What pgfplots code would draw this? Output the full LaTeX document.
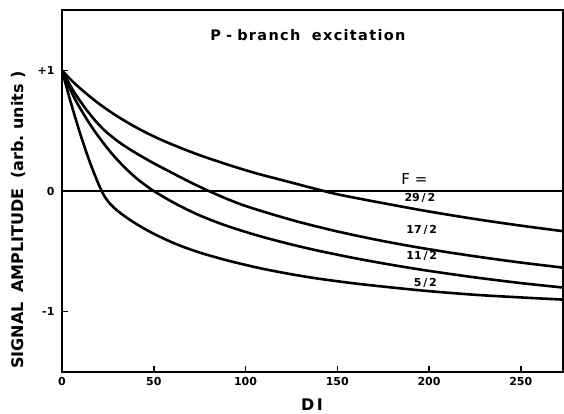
\documentclass[border=0pt]{standalone}
\usepackage{pgfplots}
\pgfplotsset{compat=1.18}
\usepackage{fontspec}
\setmainfont{DejaVu Sans}

% curves for F = 29/2, 17/2, 11/2, 5/2
\pgfplotstableread{
x y
0 1
3 0.95
7 0.89
13 0.81
20 0.725
28 0.64
36 0.565
45 0.49
55 0.418
65 0.355
75 0.297
90 0.22
105 0.15
120 0.09
135 0.03
150 -0.027
165 -0.072
180 -0.115
200 -0.17
225 -0.232
250 -0.287
273 -0.333
}\fA
\pgfplotstableread{
x y
0 1
3 0.915
6 0.835
9 0.765
13 0.68
18 0.585
23 0.505
27 0.453
32 0.395
37 0.345
43 0.29
50 0.23
60 0.15
70 0.072
80 0
90 -0.066
100 -0.124
115 -0.195
130 -0.26
150 -0.335
170 -0.40
190 -0.457
210 -0.507
230 -0.552
250 -0.593
273 -0.635
}\fB
\pgfplotstableread{
x y
0 1
2 0.922
5 0.823
9 0.709
15 0.559
20 0.449
27 0.3125
35 0.1825
42 0.088
50 0
62 -0.106
75 -0.202
90 -0.29
108 -0.375
125 -0.443
140 -0.496
160 -0.558
180 -0.613
200 -0.662
225 -0.716
250 -0.763
273 -0.80
}\fC
\pgfplotstableread{
x y
0 1
2 0.886
4 0.776
6.5 0.645
9.5 0.495
12.5 0.355
15.5 0.226
18.5 0.109
21 0.02
23 -0.04
26 -0.103
30 -0.161
35 -0.218
40 -0.268
46 -0.322
53 -0.377
63 -0.445
75 -0.51
90 -0.575
108 -0.64
125 -0.69
140 -0.727
160 -0.767
180 -0.80
200 -0.83
225 -0.86
250 -0.882
273 -0.90
}\fD

\begin{document}
\begin{tikzpicture}
\begin{axis}[
  at={(0,0)}, anchor=south west,
  scale only axis,
  width=501pt, height=362pt,
  xmin=0, xmax=273, ymin=-1.5, ymax=1.5,
  xtick={0,50,100,150,200,250},
  ytick={-1,0,1},
  yticklabels={-1,0,+1},
  tick pos=left, tick align=inside,
  major tick length=6pt,
  axis line style={line width=2.2pt},
  tick style={line width=1.5pt, black},
  tick label style={font=\fontsize{11}{13}\selectfont\bfseries},
  /pgf/number format/assume math mode=true,
  xticklabel style={yshift=-2pt},
  yticklabel style={xshift=-4pt},
  xlabel={D\,I},
  ylabel={SIGNAL\hspace{0.6em}AMPLITUDE\hspace{0.6em}(arb.\ units\ )},
  xlabel style={at={(axis description cs:0.499,-0.105)}, anchor=base,
    text depth=0pt, font=\fontsize{16}{18}\selectfont\bfseries},
  ylabel style={at={(axis description cs:-0.086,0.42)}, anchor=center,
    font=\fontsize{16}{18}\selectfont\bfseries},
  clip=true,
]
\addplot[black, line width=1.4pt] coordinates {(0,0) (273,0)};
\addplot[black, line width=2.6pt, smooth] table {\fA};
\addplot[black, line width=2.6pt, smooth] table {\fB};
\addplot[black, line width=2.6pt, smooth] table {\fC};
\addplot[black, line width=2.6pt, smooth] table {\fD};
\node[font=\fontsize{14.5}{16}\selectfont\bfseries\addfontfeature{LetterSpace=9}]
  at (axis cs:134,1.29)
  {P\hspace{0.35em}-\hspace{0.35em}branch\hspace{0.8em}excitation};
\node[font=\fontsize{15}{17}\selectfont] at (axis cs:192,0.10) {F =};
\node[font=\fontsize{11}{13}\selectfont\bfseries] at (axis cs:195,-0.06) {29\,/\,2};
\node[font=\fontsize{11}{13}\selectfont\bfseries] at (axis cs:196,-0.32) {17\,/\,2};
\node[font=\fontsize{11}{13}\selectfont\bfseries] at (axis cs:196,-0.54) {11\,/\,2};
\node[font=\fontsize{11}{13}\selectfont\bfseries] at (axis cs:198,-0.76) {5\,/\,2};
\end{axis}
\pgfresetboundingbox
\path[use as bounding box] (-62pt,-41pt) rectangle (502pt,372pt);
\end{tikzpicture}
\end{document}
